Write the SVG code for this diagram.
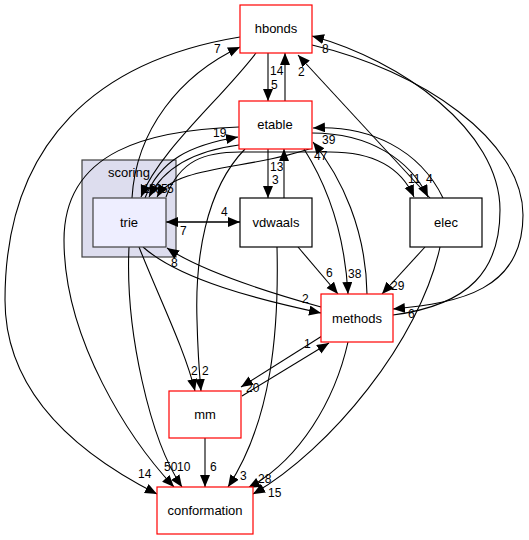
<svg xmlns="http://www.w3.org/2000/svg" width="529" height="540" viewBox="0 0 529 540">
<style>
.n{font-family:"Liberation Sans",Arial,sans-serif;font-size:13px;text-anchor:middle;fill:#000}
.l{font-family:"Liberation Sans",Arial,sans-serif;font-size:12px;fill:#000}
.red{fill:#fff;stroke:#ff0000;stroke-width:1.2}
.blk{fill:#fff;stroke:#000;stroke-width:1.2}
.e{fill:none;stroke:#000;stroke-width:1.1;marker-end:url(#a)}
</style>
<defs>
<marker id="a" markerUnits="userSpaceOnUse" markerWidth="13" markerHeight="11" refX="12" refY="5" orient="auto">
<path d="M0,0 L12,5 L0,10 z" fill="#000"/>
</marker>
</defs>
<g id="cluster_scoring">
<rect x="82" y="160" width="94" height="97" fill="#ddddee" stroke="#404040" stroke-width="1.2"/>
<text class="n" x="129" y="177">scoring</text>
</g>
<g id="connectors">
<path class="e" d="M268,53 L268,101"/>
<text class="l" x="271" y="89">5</text>
<path class="e" d="M285,101 L285,53"/>
<text class="l" x="270" y="75">14</text>
<path class="e" d="M132,198 C136,130 180,75 240,47"/>
<text class="l" x="214" y="53">7</text>
<path class="e" d="M256,53 C220,100 160,150 141,197"/>
<path class="e" d="M240,37 C100,60 5,140 5,300 C5,400 90,460 157,494"/>
<text class="l" x="138" y="478">14</text>
<path class="e" d="M239,127 C150,130 64,150 64,240 C64,340 130,440 174,487"/>
<text class="l" x="164" y="471">50</text>
<path class="e" d="M129,247 C125,330 150,440 182,487"/>
<text class="l" x="177" y="471">10</text>
<path class="e" d="M139,247 C160,300 185,350 195,391"/>
<path class="e" d="M245,149 C205,190 195,260 197,320 C198,360 200,380 201,391"/>
<text class="l" x="191" y="375">2</text>
<text class="l" x="202" y="375">2</text>
<path class="e" d="M205,438 L205,487"/>
<text class="l" x="210" y="471">6</text>
<path class="e" d="M277,247 C279,330 272,420 228,487"/>
<text class="l" x="240" y="480">3</text>
<path class="e" d="M348,342 C335,400 300,460 248,488"/>
<text class="l" x="258" y="483">28</text>
<path class="e" d="M440,247 C420,340 330,450 253,494"/>
<text class="l" x="268" y="497">15</text>
<path class="e" d="M322,336 L241,387"/>
<text class="l" x="246" y="392">20</text>
<path class="e" d="M242,396 L329,343"/>
<text class="l" x="304" y="348">1</text>
<path class="e" d="M143,247 C180,280 260,300 321,313"/>
<text class="l" x="302" y="303">2</text>
<path class="e" d="M321,307 C260,290 200,270 167,248"/>
<text class="l" x="171" y="267">8</text>
<path class="e" d="M298,247 L338,294"/>
<text class="l" x="326" y="277">6</text>
<path class="e" d="M304,149 C330,190 345,240 348,294"/>
<text class="l" x="348" y="278">38</text>
<path class="e" d="M367,294 C366,230 342,178 313,142"/>
<text class="l" x="314" y="160">47</text>
<path class="e" d="M425,247 L382,294"/>
<text class="l" x="391" y="290">29</text>
<path class="e" d="M312,45 C420,70 523,140 523,215 C523,290 460,303 393,309"/>
<text class="l" x="408" y="318">6</text>
<path class="e" d="M393,315 C470,305 500,270 500,210 C500,130 400,60 312,36"/>
<text class="l" x="322" y="53">8</text>
<path class="e" d="M430,198 L298,55"/>
<text class="l" x="298" y="76">2</text>
<path class="e" d="M166,197 C180,160 205,152 240,152 L330,152 C370,152 400,165 414,197"/>
<text class="l" x="408" y="183">11</text>
<path class="e" d="M312,133 C370,133 410,160 428,197"/>
<text class="l" x="426" y="183">4</text>
<path class="e" d="M443,198 C420,150 370,125 313,128"/>
<text class="l" x="322" y="144">39</text>
<path class="e" d="M145,198 C160,160 190,145 238,137"/>
<text class="l" x="213" y="137">19</text>
<path class="e" d="M239,145 C200,150 165,165 149,197"/>
<path class="e" d="M312,148 C250,170 175,165 157,197"/>
<text class="l" x="143" y="193">10</text>
<text class="l" x="155" y="193">6</text>
<text class="l" x="161" y="193">5</text>
<text class="l" x="167" y="193">5</text>
<path class="e" d="M166,222 L240,222"/>
<text class="l" x="221" y="216">4</text>
<path class="e" d="M240,222 L166,222"/>
<text class="l" x="180" y="235">7</text>
<path class="e" d="M268,149 L268,198"/>
<text class="l" x="272" y="184">3</text>
<path class="e" d="M284,198 L284,149"/>
<text class="l" x="270" y="171">13</text>
</g>
<g id="node_hbonds">
<rect class="red" x="240" y="5" width="72" height="48"/>
<text class="n" x="276" y="33">hbonds</text>
</g>
<g id="node_etable">
<rect class="red" x="239" y="101" width="73" height="48"/>
<text class="n" x="275" y="129">etable</text>
</g>
<g id="node_trie">
<rect x="93" y="198" width="73" height="49" fill="#eeeeff" stroke="#404040" stroke-width="1.2"/>
<text class="n" x="129" y="227">trie</text>
</g>
<g id="node_vdwaals">
<rect class="blk" x="240" y="198" width="72" height="49" stroke="#404040"/>
<text class="n" x="276" y="227">vdwaals</text>
</g>
<g id="node_elec">
<rect class="blk" x="410" y="198" width="72" height="49"/>
<text class="n" x="446" y="227">elec</text>
</g>
<g id="node_methods">
<rect class="red" x="321" y="294" width="72" height="48"/>
<text class="n" x="357" y="323">methods</text>
</g>
<g id="node_mm">
<rect class="red" x="169" y="391" width="72" height="47"/>
<text class="n" x="205" y="419">mm</text>
</g>
<g id="node_conformation">
<rect class="red" x="157" y="487" width="96" height="47"/>
<text class="n" x="205" y="515">conformation</text>
</g>
</svg>
